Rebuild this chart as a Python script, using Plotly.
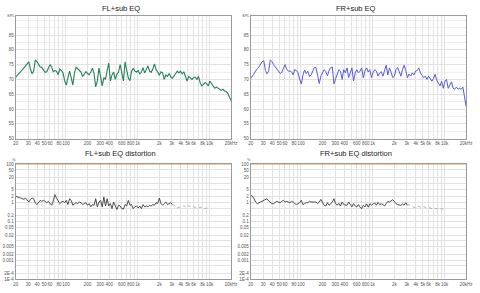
import numpy as np
import plotly.graph_objects as go

# ---------------- data ----------------
freq = np.geomspace(20, 20000, 133)  # measurement frequency grid (Hz)

spl_fl = [70.8, 71.3, 72.0, 72.6, 73.2, 73.9, 74.6, 75.5, 75.9, 73.5,
          71.9, 72.8, 76.5, 76.0, 75.0, 74.2, 74.0, 73.3, 72.4, 72.6,
          73.8, 75.0, 74.2, 72.6, 73.0, 72.8, 71.6, 73.5, 73.0, 72.2,
          69.5, 68.1, 70.6, 72.8, 70.5, 68.1, 72.2, 74.1, 73.6, 73.0,
          72.5, 71.0, 71.8, 72.6, 72.0, 71.6, 72.5, 73.8, 72.0, 67.5,
          69.5, 73.8, 71.0, 67.8, 70.6, 70.0, 73.0, 75.5, 69.5, 71.5,
          72.5, 70.0, 71.8, 72.5, 75.0, 71.5, 69.5, 75.9, 73.0, 70.5,
          69.6, 72.8, 73.8, 72.8, 72.5, 73.0, 71.9, 72.4, 74.0, 72.2,
          73.3, 74.6, 72.8, 72.4, 73.5, 75.2, 73.3, 72.6, 71.4, 72.6,
          72.2, 70.0, 71.5, 71.0, 72.0, 70.8, 70.4, 71.1, 72.2, 72.8,
          72.2, 72.8, 71.9, 72.6, 71.0, 69.4, 71.0, 70.3, 70.0, 70.6,
          70.8, 70.0, 71.0, 68.9, 67.8, 68.3, 68.9, 68.6, 67.8, 69.4,
          68.6, 67.8, 67.0, 67.4, 67.0, 66.7, 66.3, 66.7, 66.1, 65.9,
          65.2, 64.0, 62.8]

spl_fr = [70.3, 71.2, 72.2, 73.0, 73.6, 74.2, 75.0, 76.0, 76.3, 73.0,
          71.9, 72.8, 76.6, 76.0, 75.0, 74.2, 73.5, 72.6, 72.0, 72.4,
          74.0, 75.0, 73.5, 72.8, 72.8, 72.6, 71.5, 73.3, 73.0, 72.2,
          70.0, 68.5, 71.5, 73.2, 72.0, 72.8, 71.0, 71.5, 72.8, 74.0,
          74.0, 70.5, 68.6, 71.2, 72.2, 73.3, 72.6, 71.2, 73.0, 74.0,
          74.2, 68.5, 70.2, 72.0, 73.3, 72.8, 70.0, 73.3, 72.2, 73.9,
          70.6, 72.2, 73.9, 69.5, 72.2, 73.3, 72.2, 72.8, 73.9, 70.5,
          73.0, 73.9, 72.5, 73.3, 70.6, 72.4, 73.3, 72.8, 71.1, 72.2,
          72.6, 71.1, 72.8, 74.8, 71.5, 73.9, 72.5, 70.6, 71.1, 73.3,
          74.1, 72.2, 71.1, 73.3, 74.8, 73.0, 70.6, 71.8, 71.1, 72.2,
          71.5, 72.8, 73.0, 73.9, 72.2, 71.4, 70.6, 71.1, 70.0, 71.1,
          70.3, 69.4, 70.3, 71.7, 69.7, 68.9, 67.8, 69.4, 67.0, 69.4,
          70.0, 67.0, 68.3, 69.2, 67.0, 66.7, 67.4, 66.7, 67.0, 66.7,
          67.4, 64.0, 60.8]

thd_fl = [2.17, 1.93, 1.80, 1.71, 1.58, 1.46, 1.71, 1.30, 1.06, 1.46,
          1.71, 1.58, 0.95, 0.78, 1.06, 1.30, 1.15, 1.30, 1.15, 0.98,
          1.15, 0.875, 0.72, 1.20, 2.54, 1.71, 1.30, 0.875, 1.06, 1.15,
          0.98, 1.30, 0.78, 1.58, 1.30, 0.72, 0.875, 0.98, 0.875, 1.06,
          0.98, 0.78, 0.875, 0.98, 0.72, 0.875, 0.59, 0.78, 0.72, 1.58,
          0.59, 1.06, 1.30, 0.59, 1.93, 0.66, 1.58, 0.66, 0.875, 0.48,
          1.06, 0.59, 0.43, 0.72, 0.66, 0.48, 0.45, 0.78, 0.66, 1.30,
          0.72, 0.78, 0.48, 0.59, 0.66, 0.52, 0.66, 0.48, 0.78, 0.59,
          0.66, 0.59, 0.72, 0.66, 0.78, 0.72, 0.98, 0.875, 1.71, 0.875,
          0.72, 0.875, 1.06, 0.78, 0.875, 0.98, 0.78,
          0.72, 0.66, 0.52, 0.57, 0.59, 0.64, 0.66, 0.59, 0.72, 0.66,
          0.61, 0.66, 0.59, 0.55, 0.57, 0.52, 0.55, 0.57, 0.50, 0.48,
          0.52, 0.50, 0.48]

thd_fr = [2.34, 2.17, 1.58, 1.06, 0.875, 0.98, 1.06, 1.15, 1.30, 1.46,
          1.58, 1.20, 0.98, 0.875, 0.875, 1.06, 1.15, 1.06, 0.98, 1.15,
          1.30, 1.06, 1.15, 1.06, 0.98, 1.15, 1.06, 0.875, 0.78, 0.875,
          0.98, 1.30, 0.78, 0.875, 0.98, 0.98, 1.15, 1.06, 1.06, 1.15,
          1.06, 0.875, 1.06, 1.46, 1.06, 0.72, 0.66, 0.98, 0.72, 0.875,
          1.06, 1.58, 0.875, 0.72, 0.90, 0.66, 1.06, 0.78, 0.78, 0.72,
          1.06, 0.78, 0.59, 0.875, 0.66, 0.59, 0.78, 0.57, 0.48, 0.72,
          0.59, 0.85, 0.57, 0.875, 0.72, 0.85, 0.95, 0.72, 1.02, 0.78,
          0.85, 0.78, 0.66, 0.875, 1.15, 1.06, 1.30, 1.40, 1.15, 0.875,
          0.78, 0.72, 0.72, 0.85, 0.72, 0.98, 0.72,
          0.78, 0.66, 0.59, 0.55, 0.52, 0.57, 0.64, 0.57, 0.55, 0.61,
          0.57, 0.52, 0.55, 0.50, 0.48, 0.52, 0.48, 0.46, 0.45, 0.48,
          0.45, 0.46, 0.45]

thd_split = 97          # measured (solid) part ends here, rest is below noise (dotted)
ref_freq = [20, 20000]
ref_level = [100, 100]  # 100 % reference line

x_tickvals = [20, 30, 40, 50, 60, 80, 100, 200, 300, 400, 600, 800, 1000,
              2000, 3000, 4000, 5000, 6000, 8000, 10000, 20000]
x_ticktext = ['20', '30', '40', '50', '60', '80', '100', '200', '300', '400',
              '600', '800', '1k', '2k', '3k', '4k', '5k', '6k', '8k', '10k', '20kHz']
x_minor = [70, 90, 500, 700, 900, 7000, 9000]
x_decades = [100, 1000, 10000]

spl_tickvals = [50, 55, 60, 65, 70, 75, 80, 85]
spl_range = [50, 91.5]

thd_tickvals = [100, 50, 20, 5, 2, 1, 0.2, 0.1, 0.05, 0.02, 0.005, 0.002, 0.001, 2e-4, 1e-4]
thd_ticktext = ['100', '50', '20', '5', '2', '1', '0.2', '0.1', '0.05', '0.02',
                '0.005', '0.002', '0.001', '2E-4', '1E-4']
thd_minor = [10, 0.5, 0.01, 5e-4]

titles = ['FL+sub EQ', 'FR+sub EQ', 'FL+sub EQ distortion', 'FR+sub EQ distortion']

# ---------------- figure ----------------
W, H = 480, 293
def px_x(v):
    return v / W
def px_y(v):
    return 1 - v / H

xdom = [[px_x(13), px_x(233)], [px_x(253), px_x(473)]]
ydom_top = [px_y(139), px_y(14)]
ydom_bot = [px_y(282), px_y(165)]
xlog_range = [np.log10(20), np.log10(20000)]

fig = go.Figure()
fig.add_trace(go.Scatter(x=freq, y=spl_fl, mode='lines', line=dict(color='#23805a', width=1.1),
                         xaxis='x', yaxis='y', showlegend=False))
fig.add_trace(go.Scatter(x=freq, y=spl_fr, mode='lines', line=dict(color='#5a5ad8', width=1.0),
                         xaxis='x2', yaxis='y2', showlegend=False))
for thd, xa, ya in [(thd_fl, 'x3', 'y3'), (thd_fr, 'x4', 'y4')]:
    fig.add_trace(go.Scatter(x=ref_freq, y=ref_level, mode='lines',
                             line=dict(color='#e0a848', width=1.2),
                             xaxis=xa, yaxis=ya, showlegend=False, cliponaxis=False))
    fig.add_trace(go.Scatter(x=freq[:thd_split], y=thd[:thd_split], mode='lines',
                             line=dict(color='#3a3a3a', width=0.9),
                             xaxis=xa, yaxis=ya, showlegend=False))
    fig.add_trace(go.Scatter(x=freq[thd_split - 1:len(thd)], y=thd[thd_split - 1:], mode='lines',
                             line=dict(color='#a8a8a8', width=0.9, dash='dot'),
                             xaxis=xa, yaxis=ya, showlegend=False))

tickfont = dict(family='Liberation Sans, Arial, sans-serif', size=4.5, color='#555555')
grid_c = '#e2e2e2'

def xaxis_cfg(dom, anchor):
    return dict(domain=dom, anchor=anchor, type='log', range=xlog_range,
                tickmode='array', tickvals=x_tickvals, ticktext=x_ticktext, tickangle=0,
                tickfont=tickfont, ticks='', showgrid=True, gridcolor=grid_c, gridwidth=1,
                minor=dict(tickmode='array', tickvals=x_minor, showgrid=True,
                           gridcolor=grid_c, gridwidth=1, ticks=''),
                showline=True, linecolor='#9a9a9a', linewidth=1, mirror=True,
                zeroline=False, fixedrange=True)

def decade_cfg(over, anchor):
    return dict(overlaying=over, anchor=anchor, type='log', range=xlog_range,
                tickmode='array', tickvals=x_decades, showticklabels=False, ticks='',
                showgrid=True, gridcolor='#bcbcbc', gridwidth=1, showline=False,
                zeroline=False, fixedrange=True, side='bottom')

def spl_cfg(dom, anchor):
    return dict(domain=dom, anchor=anchor, range=spl_range, tickmode='array',
                tickvals=spl_tickvals, tickfont=tickfont, ticks='', showgrid=True,
                gridcolor=grid_c, gridwidth=1,
                minor=dict(dtick=2.5, showgrid=True, gridcolor='#efefef', gridwidth=1, ticks=''),
                showline=True, linecolor='#9a9a9a', linewidth=1, mirror=True,
                zeroline=False, fixedrange=True)

def thd_cfg(dom, anchor):
    return dict(domain=dom, anchor=anchor, type='log', range=[-4, 2], tickmode='array',
                tickvals=thd_tickvals, ticktext=thd_ticktext, tickfont=tickfont, ticks='',
                showgrid=True, gridcolor=grid_c, gridwidth=1,
                minor=dict(tickmode='array', tickvals=thd_minor, showgrid=True,
                           gridcolor=grid_c, gridwidth=1, ticks=''),
                showline=True, linecolor='#9a9a9a', linewidth=1, mirror=True,
                zeroline=False, fixedrange=True)

fig.update_layout(
    width=W, height=H, margin=dict(l=0, r=0, t=0, b=0),
    paper_bgcolor='white', plot_bgcolor='white',
    xaxis=xaxis_cfg(xdom[0], 'y'), yaxis=spl_cfg(ydom_top, 'x'),
    xaxis2=xaxis_cfg(xdom[1], 'y2'), yaxis2=spl_cfg(ydom_top, 'x2'),
    xaxis3=xaxis_cfg(xdom[0], 'y3'), yaxis3=thd_cfg(ydom_bot, 'x3'),
    xaxis4=xaxis_cfg(xdom[1], 'y4'), yaxis4=thd_cfg(ydom_bot, 'x4'),
    xaxis5=decade_cfg('x', 'y'), xaxis6=decade_cfg('x2', 'y2'),
    xaxis7=decade_cfg('x3', 'y3'), xaxis8=decade_cfg('x4', 'y4'),
)

title_font = dict(family='Liberation Sans, Arial, sans-serif', size=7.5, color='#222222')
title_pos = [(120, 7), (360, 7), (120, 154), (360, 154)]
for t, (cx, cy) in zip(titles, title_pos):
    fig.add_annotation(text=t, x=px_x(cx), y=px_y(cy), xref='paper', yref='paper',
                       showarrow=False, font=title_font, xanchor='center', yanchor='middle')

unit_font = dict(family='Liberation Sans, Arial, sans-serif', size=4, color='#555555')
for cx in [8, 248]:
    fig.add_annotation(text='SPL', x=px_x(cx), y=px_y(14), xref='paper', yref='paper',
                       showarrow=False, font=unit_font, xanchor='center', yanchor='middle')
    fig.add_annotation(text='%', x=px_x(cx + 3), y=px_y(160), xref='paper', yref='paper',
                       showarrow=False, font=unit_font, xanchor='center', yanchor='middle')

fig.write_html('out.html')
